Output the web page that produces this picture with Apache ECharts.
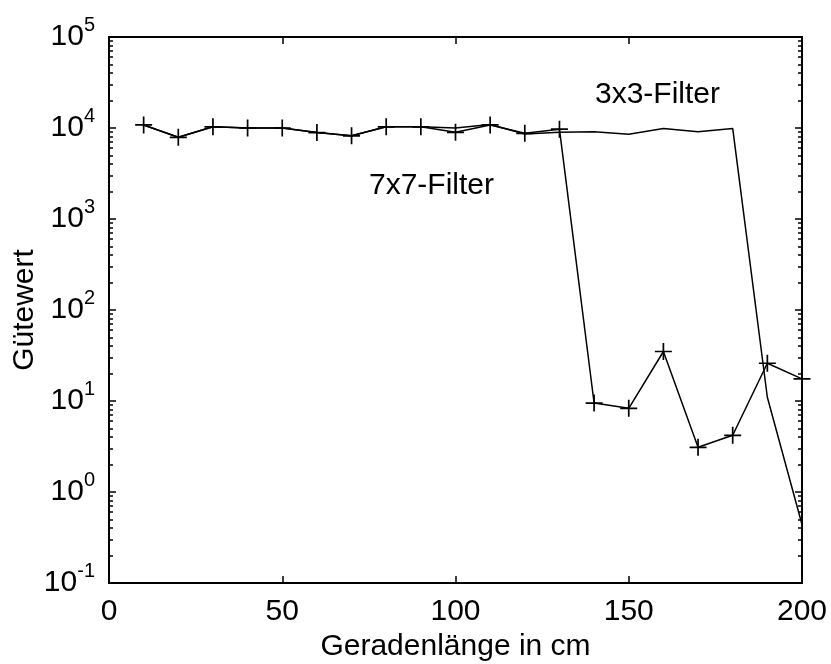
<!DOCTYPE html>
<html>
<head>
<meta charset="utf-8">
<script src="https://cdn.jsdelivr.net/npm/echarts@6/dist/echarts.min.js"></script>
<style>
html,body{margin:0;padding:0;background:#fff;}
#chart{width:831px;height:664px;}
</style>
</head>
<body>
<div id="chart"></div>
<script>
// ---- data ----
var lengths = [10, 20, 30, 40, 50, 60, 70, 80, 90, 100, 110, 120, 130, 140, 150, 160, 170, 180, 190, 200];
var filter3x3 = [10800, 7900, 10300, 10000, 10000, 8900, 8200, 10300, 10300, 10000, 10900, 8600, 8970, 9100, 8530, 9900, 9100, 9900, 11, 0.44];
var filter7x7 = [10800, 7900, 10300, 10000, 10000, 8900, 8200, 10300, 10300, 8970, 10800, 8750, 9700, 9.5, 8.3, 35, 3.1, 4.2, 26, 17.5];
var xTicks = [0, 50, 100, 150, 200];
var yDecadeExponents = [-1, 0, 1, 2, 3, 4, 5];
var minorMultipliers = [2, 3, 4, 5, 6, 7, 8, 9];
var labels = {series3: '3x3-Filter', series7: '7x7-Filter', xName: 'Geradenlänge in cm', yName: 'Gütewert'};

// ---- build ----
var minorTickValues = [];
for (var i = 0; i < yDecadeExponents.length - 1; i++) {
  for (var j = 0; j < minorMultipliers.length; j++) {
    minorTickValues.push(minorMultipliers[j] * Math.pow(10, yDecadeExponents[i]));
  }
}
var decadeValues = yDecadeExponents.map(function (e) { return Math.pow(10, e); });
function pairs(xs, ys) { return xs.map(function (x, k) { return [x, ys[k]]; }); }

var FONT = 'Liberation Sans, Arial, sans-serif';
var plusPath = 'path://M9,0h2v9h9v2h-9v9h-2v-9h-9v-2h9z';

var chart = echarts.init(document.getElementById('chart'), null, {renderer: 'canvas'});

function yAxisBase(position, showLabel, tickValues, tickLen, showName) {
  return {
    type: 'log', logBase: 10, min: 0.1, max: 100000, position: position,
    name: showName ? labels.yName : '',
    nameLocation: 'middle', nameGap: 69, nameRotate: 90, nameMoveOverlap: false,
    nameTextStyle: {fontFamily: FONT, fontSize: 30, color: '#000'},
    axisLine: {show: true, onZero: false, lineStyle: {color: '#000', width: 2}},
    axisTick: {show: true, inside: true, length: tickLen, customValues: tickValues, lineStyle: {color: '#000', width: 1.5}},
    axisLabel: {
      show: showLabel, customValues: showLabel ? decadeValues : undefined,
      margin: 14, fontFamily: FONT, color: '#000',
      formatter: function (v) {
        var e = Math.round(Math.log(v) / Math.LN10);
        return '{b|10}{s|' + e + '}';
      },
      rich: {
        b: {fontFamily: FONT, fontSize: 30, color: '#000'},
        s: {fontFamily: FONT, fontSize: 20, color: '#000', padding: [0, 0, 24, 0]}
      }
    },
    splitLine: {show: false}, minorTick: {show: false}, minorSplitLine: {show: false}
  };
}

var option = {
  backgroundColor: '#fff',
  animation: false,
  grid: {left: 109, right: 29, top: 37, bottom: 81, containLabel: false, outerBoundsMode: 'none'},
  xAxis: [{
    type: 'value', min: 0, max: 200, interval: 50, position: 'bottom',
    name: labels.xName, nameLocation: 'middle', nameGap: 49,
    nameTextStyle: {fontFamily: FONT, fontSize: 30, color: '#000'},
    axisLine: {show: true, onZero: false, lineStyle: {color: '#000', width: 2}},
    axisTick: {show: true, inside: true, length: 7, lineStyle: {color: '#000', width: 1.5}},
    axisLabel: {show: true, margin: 14, fontFamily: FONT, fontSize: 30, color: '#000',
      customValues: xTicks, formatter: function (v) { return String(v); }},
    splitLine: {show: false}
  }, {
    type: 'value', min: 0, max: 200, interval: 50, position: 'top',
    axisLine: {show: true, onZero: false, lineStyle: {color: '#000', width: 2}},
    axisTick: {show: true, inside: true, length: 7, lineStyle: {color: '#000', width: 1.5}},
    axisLabel: {show: false}, splitLine: {show: false}
  }],
  yAxis: [
    yAxisBase('left', true, decadeValues, 7, true),
    yAxisBase('left', false, minorTickValues, 4, false),
    yAxisBase('right', false, decadeValues, 7, false),
    yAxisBase('right', false, minorTickValues, 4, false)
  ],
  graphic: [
    {type: 'text', left: 595, top: 80, style: {text: labels.series3, font: '30px ' + FONT, fill: '#000'}},
    {type: 'text', left: 369, top: 171, style: {text: labels.series7, font: '30px ' + FONT, fill: '#000'}}
  ],
  series: [{
    name: labels.series3, type: 'line', xAxisIndex: 0, yAxisIndex: 0,
    data: pairs(lengths, filter3x3), showSymbol: false, symbol: 'none',
    lineStyle: {color: '#000', width: 1.5}, z: 3
  }, {
    name: labels.series7, type: 'line', xAxisIndex: 0, yAxisIndex: 0,
    data: pairs(lengths, filter7x7), symbol: plusPath, symbolSize: 17, showSymbol: true,
    itemStyle: {color: '#000'},
    lineStyle: {color: '#000', width: 1.5}, z: 4
  }]
};
chart.setOption(option);
</script>
</body>
</html>
